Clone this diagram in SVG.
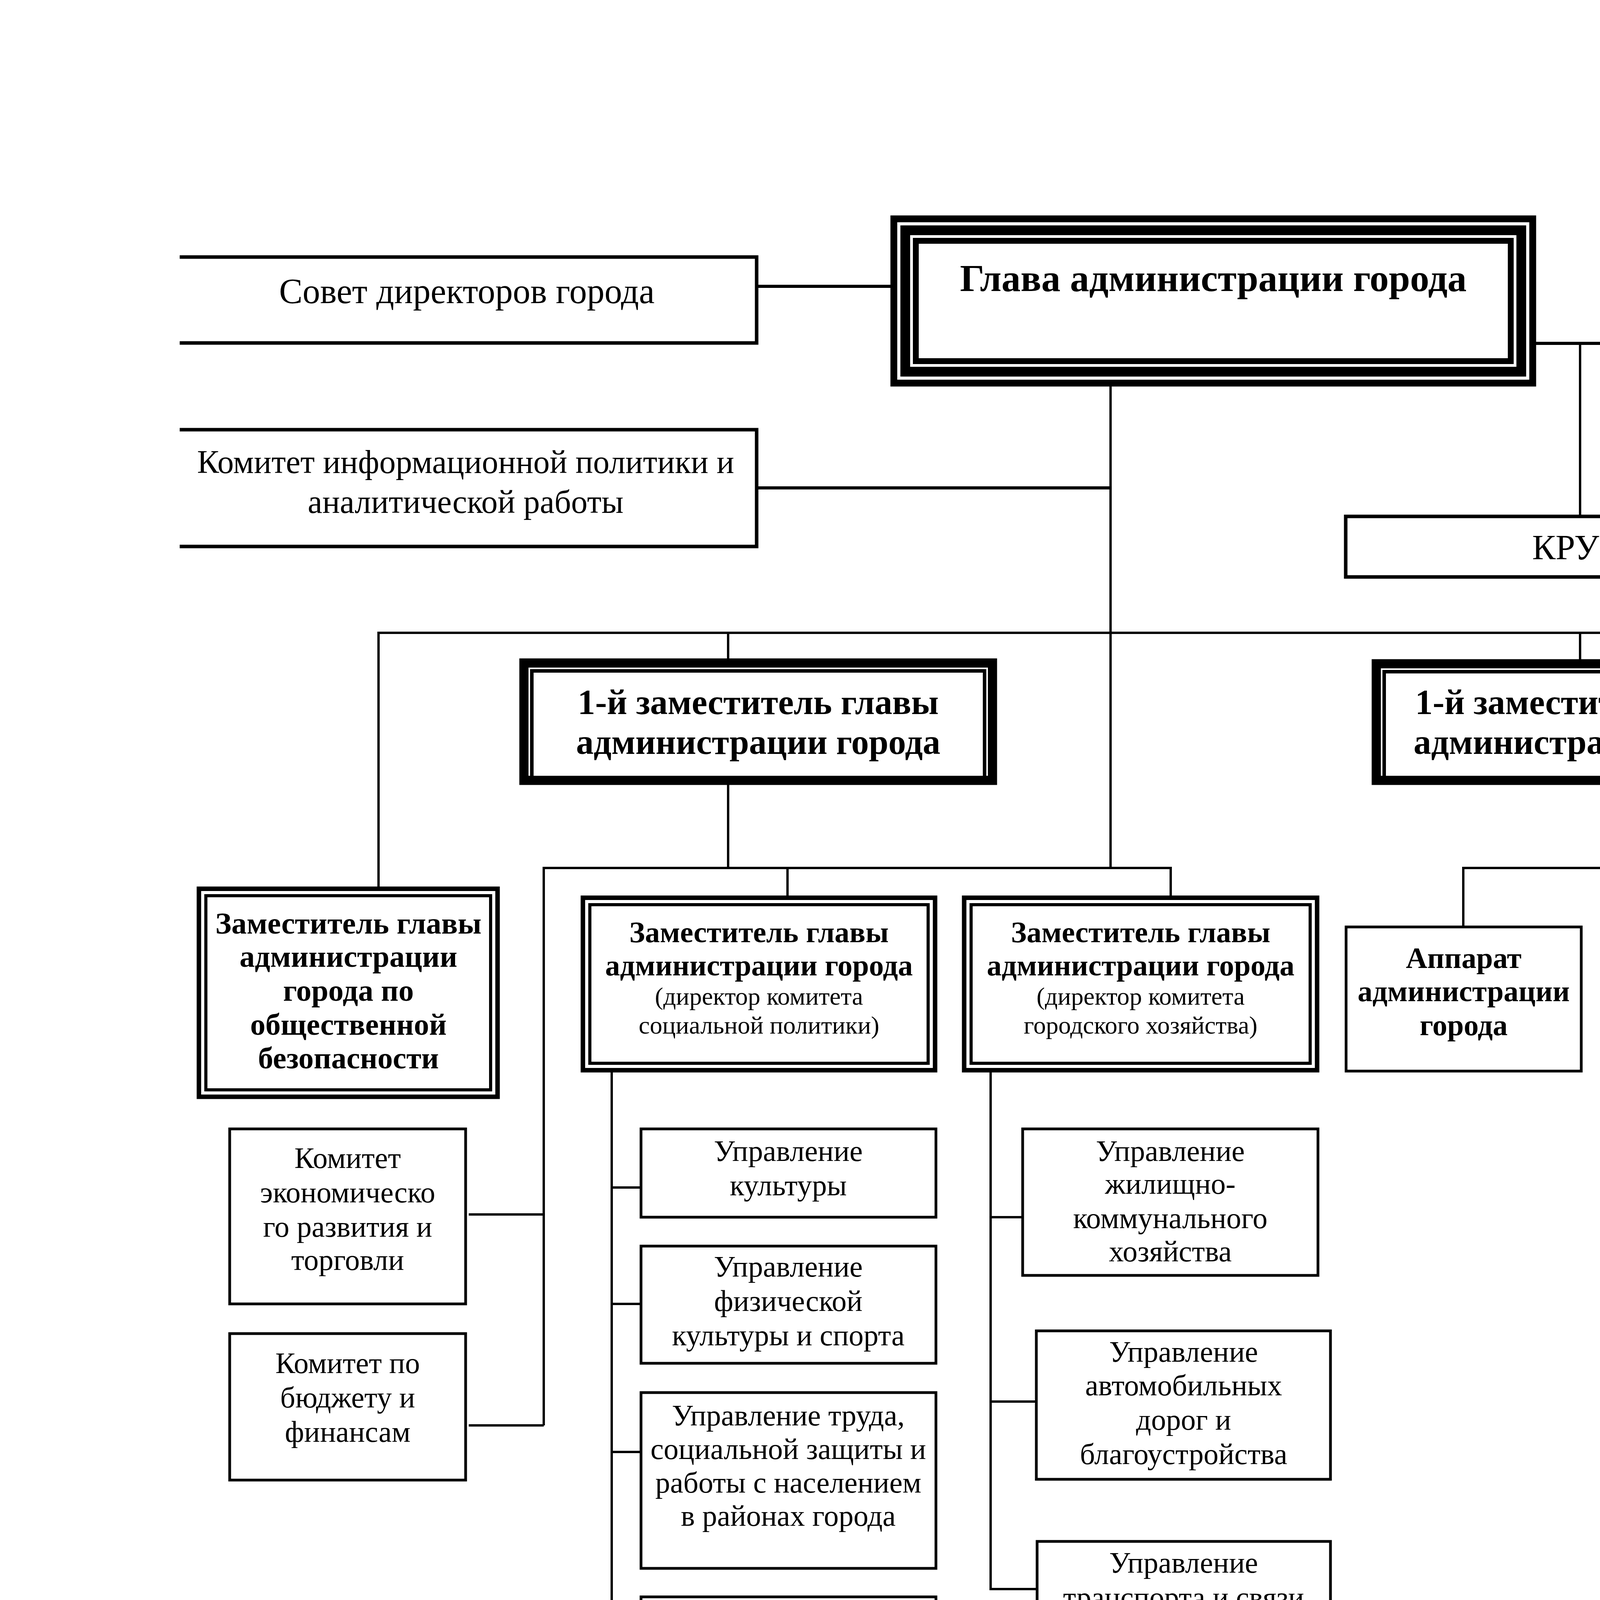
<svg xmlns="http://www.w3.org/2000/svg" width="7016" height="5100" viewBox="0 0 7016 5100">
<style>
.bg{fill:#fff}
.b{fill:#fff;stroke:#000;stroke-width:7}
.bt{fill:#fff;stroke:#000;stroke-width:9}
.o{fill:none;stroke:#000}
.c{fill:none;stroke:#000;stroke-width:6}
.ct{fill:none;stroke:#000;stroke-width:8}
text{font-family:"Liberation Serif","Times New Roman",serif;text-anchor:middle;fill:#000}
.f90{font-size:90px}
.f84{font-size:84px}
.f98{font-size:98px;font-weight:bold}
.f104{font-size:104px;font-weight:bold}
.h90{font-size:90px;font-weight:bold}
.h78{font-size:78px;font-weight:bold}
.h76{font-size:76px;font-weight:bold}
.f76{font-size:76px}
.f64{font-size:64px}
</style>
<rect class="bg" x="0" y="0" width="7016" height="5100"/>

<g id="connectors">
<path class="ct" d="M1937,733 H2283"/>
<path class="ct" d="M1937,1249 H2843"/>
<path class="c" d="M2843,986 V2222"/>
<path class="ct" d="M3929,879 H4166"/>
<path class="c" d="M4045,879 V1322"/>
<path class="ct" d="M5504,796 H5776"/>
<path class="ct" d="M4875,984 V1173 H5776"/>
<path class="c" d="M969,2273 V1620 H5925 V1691"/>
<path class="c" d="M1864,1620 V1689"/>
<path class="c" d="M4045,1620 V1691"/>
<path class="c" d="M4951,1620 V2592 H4872"/>
<path class="c" d="M1864,2006 V2222"/>
<path class="c" d="M1392,3649 V2222 H2997 V2296"/>
<path class="c" d="M2016,2222 V2296"/>
<path class="c" d="M1200,3109 H1392"/>
<path class="c" d="M1200,3649 H1392"/>
<path class="c" d="M1566,2742 V4455 H1641"/>
<path class="c" d="M1566,3040 H1641"/>
<path class="c" d="M1566,3338 H1641"/>
<path class="c" d="M1566,3717 H1641"/>
<path class="c" d="M1566,4235 H1641"/>
<path class="c" d="M2536,2742 V4068 H2655"/>
<path class="c" d="M2536,3116 H2618"/>
<path class="c" d="M2536,3588 H2653"/>
<path class="c" d="M4122,2006 V2222"/>
<path class="c" d="M3746,2373 V2222 H4571 V2373"/>
<path class="c" d="M5853,2002 V3486"/>
<path class="c" d="M5703,2590 H6003"/>
<path class="c" d="M5703,3036 H6003"/>
<path class="c" d="M5703,3486 H6003"/>
</g>

<g id="sovet">
<path class="bt" d="M460,658 H1937 V878 H460"/>
<text class="f90" x="1195" y="776">Совет директоров города</text>
</g>

<g id="komitet-inf">
<path class="bt" d="M460,1100 H1937 V1399 H460"/>
<text class="f84"><tspan x="1192" y="1211">Комитет информационной политики и</tspan><tspan x="1192" y="1313">аналитической работы</tspan></text>
</g>

<g id="glava">
<rect class="b" x="2283" y="555" width="1646" height="431" stroke-width="0"/>
<rect class="o" x="2290" y="562" width="1632" height="417" stroke-width="14"/>
<rect class="o" x="2317.5" y="589.5" width="1577" height="362" stroke-width="25"/>
<rect class="o" x="2344.5" y="616.5" width="1523" height="308" stroke-width="15"/>
<text class="f98" x="3106" y="745">Глава администрации города</text>
</g>

<g id="duma">
<rect class="b" x="4166" y="548" width="1338" height="436" stroke-width="0"/>
<rect class="o" x="4173" y="555" width="1324" height="422" stroke-width="14"/>
<rect class="o" x="4200.5" y="582.5" width="1269" height="367" stroke-width="25"/>
<rect class="o" x="4227.5" y="609.5" width="1215" height="313" stroke-width="15"/>
<text class="f104" x="4835" y="740" textLength="754" lengthAdjust="spacingAndGlyphs">Ставропольская</text>
<text class="f104" x="4835" y="852" textLength="719" lengthAdjust="spacingAndGlyphs">городская Дума</text>
</g>

<g id="apparat-dumy">
<rect class="bt" x="5776" y="574" width="1144" height="294"/>
<text class="f90"><tspan x="6345" y="678">Аппарат Ставропольской</tspan><tspan x="6345" y="783">городской Думы</tspan></text>
</g>

<g id="ksp">
<rect class="bt" x="5776" y="1020" width="1136" height="297"/>
<text class="f90"><tspan x="6342" y="1137">Контрольно-счетная</tspan><tspan x="6342" y="1246">палата</tspan></text>
</g>

<g id="kru">
<rect class="bt" x="3445" y="1322" width="1126" height="155"/>
<text class="f90" x="4008" y="1432">КРУ</text>
</g>

<g id="zam1-left">
<rect class="b" x="1333" y="1689" width="1216" height="317" stroke-width="0"/>
<rect class="o" x="1343" y="1699" width="1196" height="297" stroke-width="20"/>
<rect class="o" x="1361.5" y="1717.5" width="1159" height="280" stroke-width="9"/>
<text class="h90"><tspan x="1941" y="1828">1-й заместитель главы</tspan><tspan x="1941" y="1930">администрации города</tspan></text>
</g>

<g id="zam1-middle">
<rect class="b" x="3515" y="1691" width="1140" height="315" stroke-width="0"/>
<rect class="o" x="3525" y="1701" width="1120" height="295" stroke-width="20"/>
<rect class="o" x="3543.5" y="1719.5" width="1083" height="278" stroke-width="9"/>
<text class="h90"><tspan x="4085" y="1828">1-й заместитель главы</tspan><tspan x="4085" y="1930">администрации города</tspan></text>
</g>

<g id="zam1-right">
<rect class="b" x="5319" y="1691" width="1219" height="311" stroke-width="0"/>
<rect class="o" x="5329" y="1701" width="1199" height="291" stroke-width="20"/>
<rect class="o" x="5347.5" y="1719.5" width="1162" height="274" stroke-width="9"/>
<text class="h90"><tspan x="5928" y="1826">1-й заместитель главы</tspan><tspan x="5928" y="1928">администрации города</tspan></text>
</g>

<g id="zam-bezopasnost">
<rect class="b" x="507" y="2273" width="769" height="537" stroke-width="0"/>
<rect class="o" x="511" y="2277" width="761" height="529" stroke-width="8"/>
<rect class="o" x="527" y="2293" width="729" height="497" stroke-width="8"/>
<text class="h78"><tspan x="892" y="2390">Заместитель главы</tspan><tspan x="892" y="2475">администрации</tspan><tspan x="892" y="2562">города по</tspan><tspan x="892" y="2649">общественной</tspan><tspan x="892" y="2735">безопасности</tspan></text>
</g>

<g id="zam-social">
<rect class="b" x="1490" y="2296" width="906" height="446" stroke-width="0"/>
<rect class="o" x="1494" y="2300" width="898" height="438" stroke-width="8"/>
<rect class="o" x="1510" y="2316" width="866" height="406" stroke-width="8"/>
<text class="h76"><tspan x="1943" y="2412">Заместитель главы</tspan><tspan x="1943" y="2497">администрации города</tspan></text>
<text class="f64"><tspan x="1943" y="2572">(директор комитета</tspan><tspan x="1943" y="2646">социальной политики)</tspan></text>
</g>

<g id="zam-gorhoz">
<rect class="b" x="2466" y="2296" width="908" height="446" stroke-width="0"/>
<rect class="o" x="2470" y="2300" width="900" height="438" stroke-width="8"/>
<rect class="o" x="2486" y="2316" width="868" height="406" stroke-width="8"/>
<text class="h76"><tspan x="2920" y="2412">Заместитель главы</tspan><tspan x="2920" y="2497">администрации города</tspan></text>
<text class="f64"><tspan x="2920" y="2572">(директор комитета</tspan><tspan x="2920" y="2646">городского хозяйства)</tspan></text>
</g>

<g id="komitet-econom">
<rect class="b" x="588" y="2890" width="604" height="448"/>
<text class="f76"><tspan x="890" y="2990">Комитет</tspan><tspan x="890" y="3078">экономическо</tspan><tspan x="890" y="3166">го развития и</tspan><tspan x="890" y="3251">торговли</tspan></text>
</g>

<g id="komitet-budget">
<rect class="b" x="588" y="3414" width="604" height="375"/>
<text class="f76"><tspan x="890" y="3515">Комитет по</tspan><tspan x="890" y="3603">бюджету и</tspan><tspan x="890" y="3691">финансам</tspan></text>
</g>

<g id="upr-kultury">
<rect class="b" x="1641" y="2890" width="755" height="226"/>
<text class="f76"><tspan x="2018" y="2972">Управление</tspan><tspan x="2018" y="3060">культуры</tspan></text>
</g>

<g id="upr-sporta">
<rect class="b" x="1641" y="3190" width="755" height="300"/>
<text class="f76"><tspan x="2018" y="3268">Управление</tspan><tspan x="2018" y="3356">физической</tspan><tspan x="2018" y="3444">культуры и спорта</tspan></text>
</g>

<g id="upr-truda">
<rect class="b" x="1641" y="3565" width="755" height="450"/>
<text class="f76"><tspan x="2018" y="3649">Управление труда,</tspan><tspan x="2018" y="3735">социальной защиты и</tspan><tspan x="2018" y="3821">работы с населением</tspan><tspan x="2018" y="3906">в районах города</tspan></text>
</g>

<g id="upr-obrazovaniya">
<rect class="b" x="1641" y="4088" width="755" height="222"/>
<text class="f76"><tspan x="2018" y="4166">Управление</tspan><tspan x="2018" y="4254">образования</tspan></text>
</g>

<g id="upr-zdravoohraneniya">
<rect class="b" x="1641" y="4382" width="755" height="220"/>
<text class="f76"><tspan x="2018" y="4460">Управление</tspan><tspan x="2018" y="4548">здравоохранения</tspan></text>
</g>

<g id="upr-zhkh">
<rect class="b" x="2618" y="2890" width="756" height="375"/>
<text class="f76"><tspan x="2996" y="2972">Управление</tspan><tspan x="2996" y="3056">жилищно-</tspan><tspan x="2996" y="3144">коммунального</tspan><tspan x="2996" y="3229">хозяйства</tspan></text>
</g>

<g id="upr-dorog">
<rect class="b" x="2653" y="3407" width="753" height="380"/>
<text class="f76"><tspan x="3030" y="3486">Управление</tspan><tspan x="3030" y="3572">автомобильных</tspan><tspan x="3030" y="3660">дорог и</tspan><tspan x="3030" y="3748">благоустройства</tspan></text>
</g>

<g id="upr-transporta">
<rect class="b" x="2655" y="3946" width="751" height="227"/>
<text class="f76"><tspan x="3030" y="4026">Управление</tspan><tspan x="3030" y="4115">транспорта и связи</tspan></text>
</g>

<g id="apparat-admin">
<rect class="b" x="3446" y="2373" width="602" height="369"/>
<text class="h76"><tspan x="3747" y="2478">Аппарат</tspan><tspan x="3747" y="2563">администрации</tspan><tspan x="3747" y="2650">города</tspan></text>
</g>

<g id="admin-rayonov">
<rect class="b" x="4120" y="2519" width="604" height="369"/>
<rect class="b" x="4196" y="2446" width="602" height="369"/>
<rect class="b" x="4270" y="2373" width="602" height="369"/>
<text class="h76"><tspan x="4571" y="2477">Администрации</tspan><tspan x="4571" y="2563">районов</tspan><tspan x="4571" y="2650">города</tspan></text>
</g>

<g id="komitet-imushchestvo">
<rect class="b" x="5102" y="2370" width="601" height="444"/>
<text class="f76"><tspan x="5402" y="2472">Комитет по</tspan><tspan x="5402" y="2556">управлению</tspan><tspan x="5402" y="2642">муниципальным</tspan><tspan x="5402" y="2728">имуществом</tspan></text>
</g>

<g id="komitet-stroitelstvo">
<rect class="b" x="6003" y="2367" width="759" height="447"/>
<text class="f76"><tspan x="6380" y="2553">Комитет по</tspan><tspan x="6380" y="2641">строительству</tspan></text>
</g>

<g id="upr-arhitektury">
<rect class="b" x="5102" y="2889" width="601" height="298"/>
<text class="f76"><tspan x="5402" y="2990">Управление</tspan><tspan x="5402" y="3077">архитектуры</tspan></text>
</g>

<g id="mu-reklama">
<rect class="b" x="6003" y="2886" width="759" height="375"/>
<text class="f76"><tspan x="6380" y="2985">МУ</tspan><tspan x="6380" y="3074">муниципальная</tspan><tspan x="6380" y="3161">реклама</tspan></text>
</g>

<g id="mu-arhstroy">
<rect class="b" x="5102" y="3261" width="601" height="301"/>
<text class="f76"><tspan x="5402" y="3360">МУ</tspan><tspan x="5402" y="3449">архстройзаказа</tspan></text>
</g>

<g id="mun-inspekciya">
<rect class="b" x="6003" y="3334" width="759" height="450"/>
<text class="f76"><tspan x="6380" y="3437">Муниципальная</tspan><tspan x="6380" y="3524">инспекция</tspan><tspan x="6380" y="3610">администрации</tspan><tspan x="6380" y="3697">города</tspan></text>
</g>
</svg>
